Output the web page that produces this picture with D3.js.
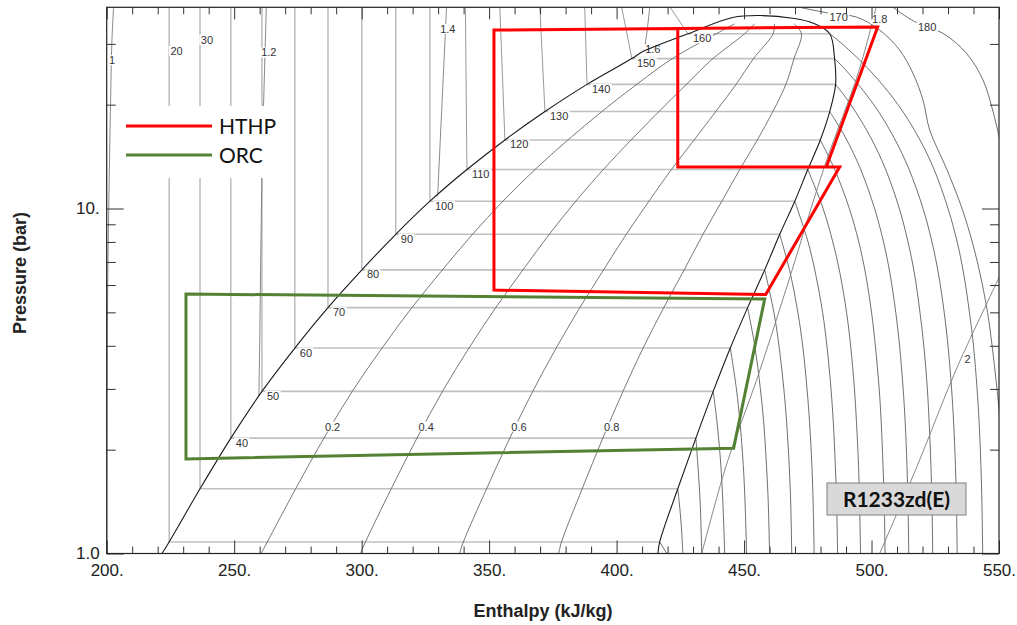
<!DOCTYPE html>
<html>
<head>
<meta charset="utf-8">
<script src="https://cdn.jsdelivr.net/npm/d3@7"></script>
<style>
  html, body { margin: 0; padding: 0; background: #fff; }
  svg { display: block; }
</style>
</head>
<body>
<script>
// R1233zd(E) pressure-enthalpy chart with HTHP and ORC cycles.
// Units: h in kJ/kg, p in bar, T in degC.

var satT  = [20, 30, 40, 50, 60, 70, 80, 90, 100, 110, 120, 130, 140, 150, 160];
var satP  = [1.08, 1.54, 2.16, 2.95, 3.94, 5.16, 6.64, 8.42, 10.5, 12.97, 15.8, 19.1, 22.9, 27.2, 32.1];
var satHl = [224.5, 236.6, 248.7, 260.9, 273.8, 286.8, 300.1, 313.4, 326.8, 341.3, 356.2, 371.9, 388.4, 406.0, 428.0];
var satHv = [416.9, 424.0, 431.1, 437.9, 444.6, 451.4, 458.1, 464.0, 469.9, 475.0, 479.9, 483.6, 485.9, 485.5, 483.6];
// enthalpy of each liquid isotherm where it leaves the top of the chart
var liqTopH = [224.5, 236.6, 248.7, 260.9, 273.8, 286.8, 300.1, 313.4, 326.8, 340.7, 354.2, 369.9, 387.5, 402.0, 421.0];

var domeLiquid = [[221.7, 1.0], [224.5, 1.08], [236.6, 1.54], [248.7, 2.16], [260.9, 2.95], [273.8, 3.94],
  [286.8, 5.16], [300.1, 6.64], [313.4, 8.42], [326.8, 10.5], [341.3, 12.97], [356.2, 15.8], [371.9, 19.1],
  [388.4, 22.9], [406.0, 27.2], [410.3, 28.5], [428.0, 32.1], [445.6, 35.8]];
var critPoint = [457.3, 36.24];
var domeVapor = [[469.0, 35.6], [476.9, 34.5], [483.6, 32.1], [485.5, 27.2], [485.9, 22.9], [483.6, 19.1],
  [479.9, 15.8], [475.0, 12.97], [469.9, 10.5], [464.0, 8.42], [458.1, 6.64], [451.4, 5.16], [444.6, 3.94],
  [437.9, 2.95], [431.1, 2.16], [424.0, 1.54], [416.9, 1.08], [416.2, 1.0]];

// superheated parts of the isotherms, same order as satT
var vaporIso = [
  [[416.9, 1.08], [419.7, 1.0]],
  [[424.0, 1.54], [424.6, 1.4], [425.4, 1.2], [426.0, 1.0]],
  [[431.1, 2.16], [431.9, 1.8], [432.8, 1.4], [433.4, 1.0]],
  [[437.9, 2.95], [439.4, 2.4], [440.9, 1.8], [441.7, 1.4], [442.4, 1.0]],
  [[444.6, 3.94], [447.0, 3.0], [448.4, 2.4], [449.7, 1.8], [450.4, 1.4], [451.0, 1.0]],
  [[451.4, 5.16], [454.2, 4.0], [456.4, 3.0], [457.7, 2.4], [458.8, 1.8], [459.5, 1.4], [460.0, 1.0]],
  [[458.1, 6.64], [461.7, 5.0], [463.7, 4.0], [465.6, 3.0], [466.7, 2.4], [467.7, 1.8], [468.3, 1.4], [468.7, 1.0]],
  [[464.0, 8.42], [468.1, 6.5], [471.1, 5.0], [473.0, 4.0], [474.7, 3.0], [475.7, 2.4], [476.6, 1.8], [477.1, 1.4], [477.5, 1.0]],
  [[469.9, 10.5], [475.1, 8.0], [478.0, 6.5], [480.8, 5.0], [482.5, 4.0], [484.1, 3.0], [485.0, 2.4], [485.8, 1.8], [486.3, 1.4], [486.7, 1.0]],
  [[475.0, 12.97], [481.0, 10.0], [484.8, 8.0], [487.6, 6.5], [490.2, 5.0], [491.8, 4.0], [493.3, 3.0], [494.1, 2.4], [494.9, 1.8], [495.3, 1.4], [495.7, 1.0]],
  [[479.9, 15.8], [485.5, 13.0], [491.3, 10.0], [495.0, 8.0], [497.6, 6.5], [500.0, 5.0], [501.5, 4.0], [503.0, 3.0], [503.8, 2.4], [504.5, 1.8], [505.0, 1.4], [505.3, 1.0]],
  [[483.6, 19.1], [489.9, 16.0], [495.7, 13.0], [501.2, 10.0], [504.7, 8.0], [507.2, 6.5], [509.5, 5.0], [511.0, 4.0], [512.4, 3.0], [513.2, 2.4], [513.9, 1.8], [514.3, 1.4], [514.6, 1.0]],
  [[485.9, 22.9], [491.9, 20.0], [499.8, 16.0], [505.5, 13.0], [510.9, 10.0], [514.3, 8.0], [516.8, 6.5], [519.0, 5.0], [520.5, 4.0], [521.9, 3.0], [522.6, 2.4], [523.3, 1.8], [523.7, 1.4], [524.0, 1.0]],
  [[485.5, 27.2], [490.3, 25.0], [500.9, 20.0], [508.9, 16.0], [514.7, 13.0], [520.2, 10.0], [523.7, 8.0], [526.2, 6.5], [528.5, 5.0], [530.0, 4.0], [531.4, 3.0], [532.2, 2.4], [532.9, 1.8], [533.3, 1.4], [533.6, 1.0]],
  [[483.6, 32.1], [488.5, 30.0], [499.6, 25.0], [510.4, 20.0], [518.6, 16.0], [524.5, 13.0], [530.0, 10.0], [533.6, 8.0], [536.1, 6.5], [538.4, 5.0], [540.0, 4.0], [541.4, 3.0], [542.2, 2.4], [542.9, 1.8], [543.3, 1.4], [543.6, 1.0]]
];
var iso170 = [[471.8, 38.3], [483.6, 36.8], [494.0, 35.9], [503.2, 32.9], [511.0, 28.8], [516.2, 24.7], [520.2, 20.6],
  [522.8, 16.9], [529.5, 13.0], [535.5, 10.0], [539.5, 8.0], [542.5, 6.5], [545.5, 5.0], [547.3, 4.0], [549.2, 3.0], [550.5, 2.4]];
var iso180 = [[508.4, 38.3], [516.9, 34.8], [528.0, 32.2], [537.2, 28.2], [543.7, 23.6], [547.5, 19.3], [551.0, 15.0]];

// vapour quality lines
var qualityP = [1.0, 1.08, 1.54, 2.16, 2.95, 3.94, 5.16, 6.64, 8.42, 10.5, 12.97, 15.8, 19.1, 22.9, 27.2, 32.1, 34.3];
var q02 = [260.6, 263.0, 274.1, 285.2, 296.3, 308.0, 319.7, 331.7, 343.5, 355.4, 368.0, 380.9, 394.2, 407.9, 421.9, 439.1, 446.3];
var q04 = [299.5, 301.5, 311.6, 321.7, 331.7, 342.1, 352.6, 363.3, 373.6, 384.0, 394.8, 405.7, 416.6, 427.4, 437.8, 450.2, 454.1];
var q06 = [338.4, 339.9, 349.0, 358.1, 367.1, 376.3, 385.6, 394.9, 403.8, 412.7, 421.5, 430.4, 438.9, 446.9, 453.7, 461.4, 461.9];
var q08 = [377.3, 378.4, 386.5, 394.6, 402.5, 410.4, 418.5, 426.5, 433.9, 441.3, 448.3, 455.2, 461.3, 466.4, 469.6, 472.5, 469.7];

// isentropes (kJ/kg-K)
var s10 = [[202.7, 38.3], [202.0, 30], [201.5, 20], [200.8, 10], [200.4, 6], [200.2, 3], [200.1, 1]];
var s12 = [[262.6, 38.3], [261.9, 25], [261.1, 15], [260.5, 8], [260.0, 4], [259.7, 2.87]];
var s14 = [[333.3, 38.3], [331.5, 20], [329.8, 10.85]];
var s16 = [[413.0, 38.3], [411.8, 32], [410.8, 28.7]];
var s18 = [[501.8, 38.3], [495.0, 25], [481.6, 13.27], [467.0, 6], [454.9, 3.18], [443.0, 1.8], [433.4, 1.0]];
var s20 = [[503.2, 1.0], [518.0, 1.8], [533.1, 3.4], [549.5, 6.2], [551.5, 6.7]];

// cycles
var hthpPath = [[482.4, 13.28], [502.4, 33.6], [351.9, 32.9], [351.9, 5.80], [458.5, 5.63], [487.5, 13.19], [424.0, 13.19], [424.0, 33.05]];
var orcPath = [[231.1, 5.65], [458.1, 5.47], [445.9, 2.02], [231.1, 1.88]];

// labels
var topLabels = [
  { text: "20", h: 227.4, p: 28.6 }, { text: "30", h: 239.3, p: 30.8 },
  { text: "170", h: 487.1, p: 35.9 }, { text: "180", h: 521.8, p: 33.5 }
];
var qualityLabels = [
  { text: "0.2", h: 288.6, p: 2.33 }, { text: "0.4", h: 325.3, p: 2.33 },
  { text: "0.6", h: 361.7, p: 2.33 }, { text: "0.8", h: 398.1, p: 2.33 }
];
var entropyLabels = [
  { text: "1", h: 202.1, p: 26.9 }, { text: "1.2", h: 263.6, p: 28.3 }, { text: "1.4", h: 333.8, p: 33.1 },
  { text: "1.6", h: 414.2, p: 28.9 }, { text: "1.8", h: 503.2, p: 35.4 }, { text: "2", h: 537.7, p: 3.66 }
];

var xMajor = [200, 250, 300, 350, 400, 450, 500, 550];
var yMajor = [1, 10];
var yMinor = [2, 3, 4, 5, 6, 7, 8, 9, 20, 30];
var legendNames = ["HTHP", "ORC"];
var legendColors = ["#ff0000", "#548235"];
var fluidName = "R1233zd(E)";

(function () {
  "use strict";

  var W = 1017, H = 625;
  var box = { left: 106.7, right: 999, top: 7.3, bottom: 553.5 };
  var labelFont = "Liberation Sans, Arial, sans-serif";

  var x = d3.scaleLinear().domain([200, 550]).range([box.left, box.right]);
  var y = d3.scaleLog().domain([1, 38.3]).range([box.bottom, box.top]);
  var pTop = y.domain()[1];

  var svg = d3.select("body").append("svg").attr("width", W).attr("height", H);
  svg.append("rect").attr("width", W).attr("height", H).attr("fill", "#fff");

  svg.append("clipPath").attr("id", "plot-clip").append("rect")
    .attr("x", box.left).attr("y", box.top)
    .attr("width", box.right - box.left).attr("height", box.bottom - box.top);

  var smooth = d3.line()
    .x(function (d) { return x(d[0]); })
    .y(function (d) { return y(d[1]); })
    .curve(d3.curveCatmullRom.alpha(0.5));
  var straight = d3.line()
    .x(function (d) { return x(d[0]); })
    .y(function (d) { return y(d[1]); });

  var grid = svg.append("g").attr("clip-path", "url(#plot-clip)").attr("fill", "none");

  function draw(g, pts, gen, color, w) {
    return g.append("path").attr("d", gen(pts)).attr("fill", "none")
      .attr("stroke", color).attr("stroke-width", w);
  }

  // liquid isotherms (near vertical)
  satT.forEach(function (t, i) {
    draw(grid, [[liqTopH[i], pTop], [satHl[i], satP[i]]], straight, "#9a9a9a", 1);
  });
  // isotherms across the two-phase region
  satT.forEach(function (t, i) {
    draw(grid, [[satHl[i], satP[i]], [satHv[i], satP[i]]], straight, "#c0c0c0", 1.6);
  });
  // superheated vapour isotherms
  vaporIso.forEach(function (pts) { draw(grid, pts, smooth, "#4a4a4a", 0.8); });
  draw(grid, iso170, smooth, "#4a4a4a", 0.8);
  draw(grid, iso180, smooth, "#4a4a4a", 0.8);

  [q02, q04, q06, q08].forEach(function (hs) {
    var pts = hs.map(function (h, i) { return [h, qualityP[i]]; });
    draw(grid, pts, smooth, "#555", 0.8);
  });

  [s10, s12, s14, s16, s18, s20].forEach(function (pts) {
    draw(grid, pts, smooth, "#7a7a7a", 0.9);
  });

  // labels sit on a white patch so they cut the lines they belong to
  var labels = svg.append("g").attr("font-family", labelFont).attr("font-size", 11)
    .attr("fill", "#333").style("opacity", 0.999);

  function addLabel(text, px, py, anchor, dy) {
    var g = labels.append("g");
    var t = g.append("text").attr("x", px).attr("y", py)
      .attr("text-anchor", anchor).attr("dy", dy).text(text);
    var b = t.node().getBBox();
    g.insert("rect", "text")
      .attr("x", b.x - 1.5).attr("y", b.y + 1)
      .attr("width", b.width + 3).attr("height", b.height - 2)
      .attr("fill", "#fff");
  }

  satT.forEach(function (t, i) {
    if (t < 40) return;
    addLabel(String(t), x(satHl[i]) + 5, y(satP[i]) + 8.5, "start", 0);
  });
  topLabels.forEach(function (d) { addLabel(d.text, x(d.h), y(d.p), "middle", "0.35em"); });
  qualityLabels.forEach(function (d) { addLabel(d.text, x(d.h), y(d.p), "middle", "0.35em"); });
  entropyLabels.forEach(function (d) { addLabel(d.text, x(d.h), y(d.p), "middle", "0.35em"); });

  // saturation dome
  var dome = domeLiquid.concat([critPoint], domeVapor);
  svg.append("g").attr("clip-path", "url(#plot-clip)")
    .append("path").attr("d", smooth(dome))
    .attr("fill", "none").attr("stroke", "#1a1a1a").attr("stroke-width", 1.1);

  // axes: ticks point inwards on all four sides
  function styleAxis(g) {
    g.select(".domain").remove();
    g.selectAll(".tick line").attr("stroke", "#333");
    g.attr("font-family", labelFont).attr("font-size", 17);
    g.selectAll(".tick text").attr("fill", "#222");
  }
  var xMinor = d3.range(210, 550, 10).filter(function (v) { return v % 50 !== 0; });

  svg.append("g").attr("transform", "translate(0," + box.bottom + ")")
    .call(d3.axisBottom(x).tickValues(xMajor).tickSize(-13).tickPadding(10)
      .tickFormat(function (d) { return d + "."; }))
    .call(styleAxis);
  svg.append("g").attr("transform", "translate(0," + box.bottom + ")")
    .call(d3.axisBottom(x).tickValues(xMinor).tickSize(-7).tickFormat(""))
    .call(styleAxis);
  svg.append("g").attr("transform", "translate(0," + box.top + ")")
    .call(d3.axisTop(x).tickValues(xMajor).tickSize(-12).tickFormat(""))
    .call(styleAxis);
  svg.append("g").attr("transform", "translate(0," + box.top + ")")
    .call(d3.axisTop(x).tickValues(xMinor).tickSize(-7).tickFormat(""))
    .call(styleAxis);

  svg.append("g").attr("transform", "translate(" + box.left + ",0)")
    .call(d3.axisLeft(y).tickValues(yMajor).tickSize(-17).tickPadding(7)
      .tickFormat(function (d) { return d === 1 ? "1.0" : d + "."; }))
    .call(styleAxis);
  svg.append("g").attr("transform", "translate(" + box.left + ",0)")
    .call(d3.axisLeft(y).tickValues(yMinor).tickSize(-9).tickFormat(""))
    .call(styleAxis);
  svg.append("g").attr("transform", "translate(" + box.right + ",0)")
    .call(d3.axisRight(y).tickValues(yMajor).tickSize(-17).tickFormat(""))
    .call(styleAxis);
  svg.append("g").attr("transform", "translate(" + box.right + ",0)")
    .call(d3.axisRight(y).tickValues(yMinor).tickSize(-9).tickFormat(""))
    .call(styleAxis);

  svg.append("rect")
    .attr("x", box.left).attr("y", box.top)
    .attr("width", box.right - box.left).attr("height", box.bottom - box.top)
    .attr("fill", "none").attr("stroke", "#222").attr("stroke-width", 1.2);

  // cycles
  svg.append("path").attr("d", straight(hthpPath))
    .attr("fill", "none").attr("stroke", legendColors[0]).attr("stroke-width", 3)
    .attr("stroke-linejoin", "miter");
  svg.append("path").attr("d", straight(orcPath) + "Z")
    .attr("fill", "none").attr("stroke", legendColors[1]).attr("stroke-width", 3)
    .attr("stroke-linejoin", "miter");

  // legend, pasted over the chart on a white patch
  var legend = svg.append("g").attr("transform", "translate(116,106)");
  legend.append("rect").attr("width", 170).attr("height", 72).attr("fill", "#fff");
  legendNames.forEach(function (name, i) {
    var ly = 20 + i * 29;
    legend.append("line").attr("x1", 10).attr("x2", 96).attr("y1", ly).attr("y2", ly)
      .attr("stroke", legendColors[i]).attr("stroke-width", 3);
    legend.append("text").attr("x", 103).attr("y", ly + 8)
      .attr("font-family", "Lato, sans-serif").attr("font-size", 21).attr("fill", "#111")
      .text(name);
  });

  // fluid name box
  var tag = svg.append("g").attr("transform", "translate(827,483)");
  tag.append("rect").attr("width", 139).attr("height", 32)
    .attr("fill", "#d9d9d9").attr("stroke", "#7f7f7f").attr("stroke-width", 1);
  tag.append("text").attr("x", 69.5).attr("y", 23.5).attr("text-anchor", "middle")
    .attr("font-family", "Lato, sans-serif").attr("font-weight", "bold").attr("font-size", 21)
    .attr("fill", "#111").text(fluidName);

  // axis titles
  svg.append("text").attr("x", 543).attr("y", 617).attr("text-anchor", "middle")
    .attr("font-family", labelFont).attr("font-weight", "bold").attr("font-size", 18)
    .attr("fill", "#222").text("Enthalpy (kJ/kg)");
  svg.append("text").attr("transform", "translate(26,273) rotate(-90)").attr("text-anchor", "middle")
    .attr("font-family", labelFont).attr("font-weight", "bold").attr("font-size", 18)
    .attr("fill", "#222").text("Pressure (bar)");
})();
</script>
</body>
</html>
